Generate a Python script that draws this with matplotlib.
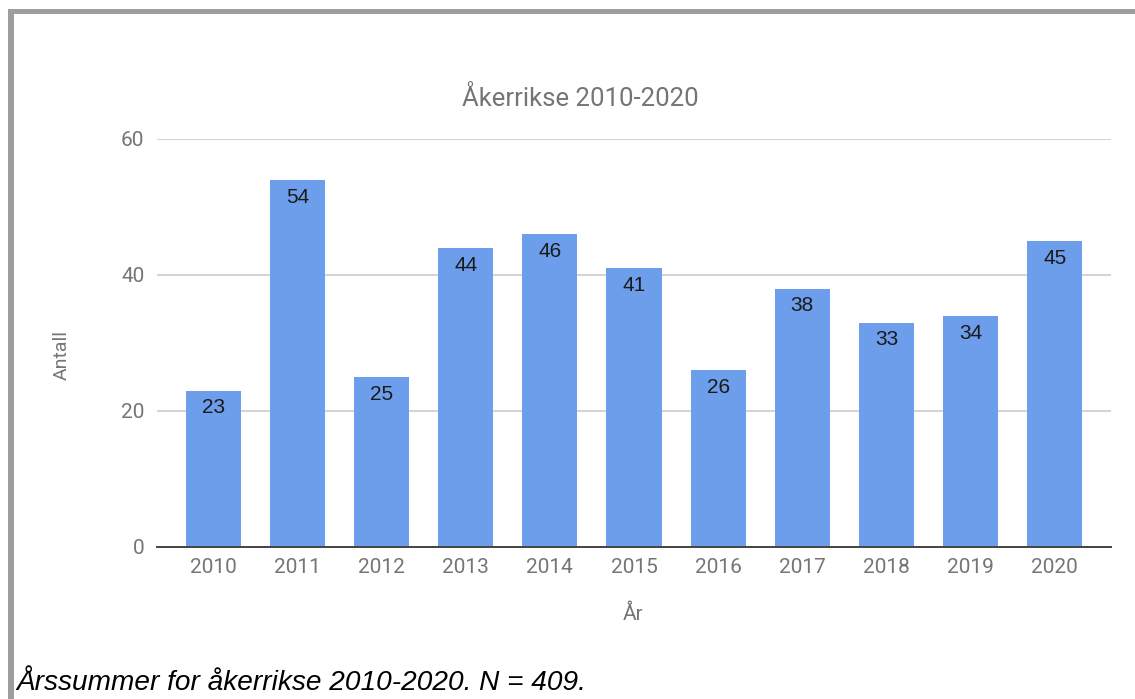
import matplotlib
matplotlib.use("Agg")
import matplotlib.pyplot as plt
from matplotlib.patches import Rectangle

years = ["2010", "2011", "2012", "2013", "2014", "2015", "2016", "2017", "2018", "2019", "2020"]
counts = [23, 54, 25, 44, 46, 41, 26, 38, 33, 34, 45]
y_ticks = [0, 20, 40, 60]

title = "Åkerrikse 2010-2020"
x_label = "År"
y_label = "Antall"
caption = "Årssummer for åkerrikse 2010-2020. N = 409."

W, H = 1135, 699
fig = plt.figure(figsize=(W / 100, H / 100), dpi=100)
plt.rcParams['font.family'] = ['Roboto', 'DejaVu Sans']

gray_txt = "#757575"
bar_col = "#6d9eeb"

# axes placed in pixel terms
left, right, bottom, top = 157, 1111, 547, 139
ax = fig.add_axes([left / W, 1 - bottom / H, (right - left) / W, (bottom - top) / H])

x = range(len(years))
bars = ax.bar(x, counts, width=0.655, color=bar_col, zorder=3)
for b, v in zip(bars, counts):
    ax.annotate(str(v), (b.get_x() + b.get_width() / 2, v), xytext=(0, -12.5),
                textcoords="offset points", ha="center", va="center",
                fontsize=15, color="#1a1a1a", family=["Liberation Sans", "DejaVu Sans"], zorder=4)

ax.set_xlim(-0.67, len(years) - 1 + 0.67)
ax.set_ylim(0, 60)
ax.set_xticks(list(x))
ax.set_xticklabels(years)
ax.set_yticks(y_ticks)
ax.tick_params(axis="both", length=0, labelsize=15, colors=gray_txt)
ax.tick_params(axis="x", pad=8)
ax.tick_params(axis="y", pad=9)
ax.grid(axis="y", color="#cccccc", linewidth=1.2, zorder=0)
for s in ["top", "right", "left"]:
    ax.spines[s].set_visible(False)
ax.spines["bottom"].set_color("#444444")
ax.spines["bottom"].set_linewidth(1.4)
ax.spines["bottom"].set_zorder(5)

fig.text(580 / W, 1 - 98 / H, title, ha="center", va="center", fontsize=18.5, color=gray_txt)
fig.text(633 / W, 1 - 614 / H, x_label, ha="center", va="center", fontsize=15, color=gray_txt)
fig.text(62 / W, 1 - 355 / H, y_label, ha="center", va="center", rotation=90, fontsize=14, color=gray_txt)
fig.text(16 / W, 1 - 683 / H, caption, ha="left", va="center", fontsize=20.2, style="italic",
         color="black", family=["Liberation Sans", "DejaVu Sans"])

# gray frame on the left and top
border = "#9e9e9e"
fig.add_artist(Rectangle((8 / W, 0), 6 / W, 1 - 9 / H, transform=fig.transFigure, color=border, lw=0))
fig.add_artist(Rectangle((8 / W, 1 - 14 / H), 1 - 8 / W, 5 / H, transform=fig.transFigure, color=border, lw=0))

fig.savefig("out.png", dpi=100)
